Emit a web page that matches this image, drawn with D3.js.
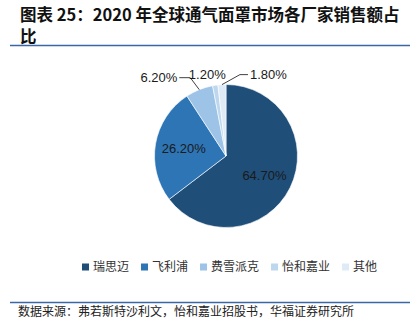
<!DOCTYPE html>
<html>
<head>
<meta charset="utf-8">
<script src="https://cdn.jsdelivr.net/npm/d3@7"></script>
<style>
  body { margin: 0; background: #fff; }
  svg { display: block; }
</style>
</head>
<body>
<svg id="chart"></svg>
<script>
// Chart data: manufacturers and their share of the 2020 global ventilation mask market
const makers = ["瑞思迈", "飞利浦", "费雪派克", "怡和嘉业", "其他"];
const shares = [64.7, 26.2, 6.2, 1.2, 1.8];
const share_labels = ["64.70%", "26.20%", "6.20%", "1.20%", "1.80%"];
const slice_colors = ["#1f4e79", "#2e75b6", "#9dc3e6", "#bdd7ee", "#deebf7"];

const width = 413, height = 331;
const cx = 226, cy = 156, radius = 71.5;

const svg = d3.select("#chart")
    .attr("width", width)
    .attr("height", height);

// Title on two lines, the last char wraps
const title = svg.append("g")
    .style("font-family", "'Noto Sans CJK SC', sans-serif")
    .style("font-weight", "bold")
    .style("font-size", "16.5px")
    .attr("fill", "#111");
title.append("text").attr("x", 20).attr("y", 21)
    .text("图表 25：2020 年全球通气面罩市场各厂家销售额占");
title.append("text").attr("x", 20).attr("y", 43).text("比");

// Blue rule under the title and above the source
svg.append("line")
    .attr("x1", 10).attr("x2", 410).attr("y1", 45.5).attr("y2", 45.5)
    .attr("stroke", "#3a67a6").attr("stroke-width", 1.5);
svg.append("line")
    .attr("x1", 10).attr("x2", 410).attr("y1", 302.5).attr("y2", 302.5)
    .attr("stroke", "#3a67a6").attr("stroke-width", 1.5);

// Pie layout, clockwise from 12 o'clock in data order
const pie = d3.pie().sort(null).value(d => d.value);
const pie_data = pie(makers.map((m, i) => ({ name: m, value: shares[i], label: share_labels[i], color: slice_colors[i] })));

const arc = d3.arc().innerRadius(0).outerRadius(radius);
const label_arc = d3.arc().innerRadius(radius * 0.6).outerRadius(radius * 0.6);
const edge_arc = d3.arc().innerRadius(radius).outerRadius(radius);

const pie_g = svg.append("g").attr("transform", `translate(${cx}, ${cy})`);

pie_g.selectAll("path.slice")
    .data(pie_data)
    .enter()
    .append("path")
    .attr("class", "slice")
    .attr("d", arc)
    .attr("fill", d => d.data.color)
    .attr("stroke", "#fff")
    .attr("stroke-width", 0.6);

// Big slices get their label inside
const inner = pie_data.filter(d => d.data.value > 10);
pie_g.selectAll("text.inner")
    .data(inner)
    .enter()
    .append("text")
    .attr("class", "inner")
    .attr("x", d => label_arc.centroid(d)[0])
    .attr("y", d => label_arc.centroid(d)[1])
    .attr("dy", "0.35em")
    .attr("text-anchor", "middle")
    .style("font-family", "'Liberation Sans', Arial, sans-serif")
    .style("font-size", "13px")
    .attr("fill", "#1a1a1a")
    .text(d => d.data.label);

// Small slices get outside labels with leader lines (elbow offsets per slice)
const outside = [
    { i: 2, elbow: [-9, -12], end: -20, anchor: "end" },
    { i: 3, elbow: null, label: [-8, -11], anchor: "middle" },
    { i: 4, elbow: [18, -10], end: 26, anchor: "start" }
];

outside.forEach(o => {
    const d = pie_data[o.i];
    const p = edge_arc.centroid(d);
    if (o.elbow) {
        const e = [p[0] + o.elbow[0], p[1] + o.elbow[1]];
        const q = [p[0] + o.end, e[1]];
        pie_g.append("polyline")
            .attr("points", [p, e, q].map(v => v.join(",")).join(" "))
            .attr("fill", "none")
            .attr("stroke", "#404040")
            .attr("stroke-width", 1);
        pie_g.append("text")
            .attr("x", q[0] + (o.anchor === "end" ? -2 : 2))
            .attr("y", q[1])
            .attr("dy", "0.35em")
            .attr("text-anchor", o.anchor)
            .style("font-family", "'Liberation Sans', Arial, sans-serif")
            .style("font-size", "13px")
            .attr("fill", "#1a1a1a")
            .text(d.data.label);
    } else {
        pie_g.append("text")
            .attr("x", p[0] + o.label[0])
            .attr("y", p[1] + o.label[1])
            .attr("dy", "0.35em")
            .attr("text-anchor", o.anchor)
            .style("font-family", "'Liberation Sans', Arial, sans-serif")
            .style("font-size", "13px")
            .attr("fill", "#1a1a1a")
            .text(d.data.label);
    }
});

// Legend row under the pie
const legend = svg.append("g")
    .attr("transform", "translate(82, 267)")
    .style("font-family", "'Noto Sans CJK SC', sans-serif")
    .style("font-size", "12px");

let lx = 0;
makers.forEach((m, i) => {
    const item = legend.append("g").attr("transform", `translate(${lx}, 0)`);
    item.append("rect")
        .attr("x", 0).attr("y", -3.5)
        .attr("width", 7).attr("height", 7)
        .attr("fill", slice_colors[i]);
    const t = item.append("text")
        .attr("x", 11).attr("y", 0)
        .attr("dy", "0.35em")
        .attr("fill", "#333")
        .text(m);
    lx += 11 + t.node().getComputedTextLength() + 12;
});

// Source note
svg.append("text")
    .attr("x", 18).attr("y", 316)
    .style("font-family", "'Noto Sans CJK SC', sans-serif")
    .style("font-size", "12px")
    .attr("fill", "#222")
    .text("数据来源：弗若斯特沙利文，怡和嘉业招股书，华福证券研究所");
</script>
</body>
</html>
